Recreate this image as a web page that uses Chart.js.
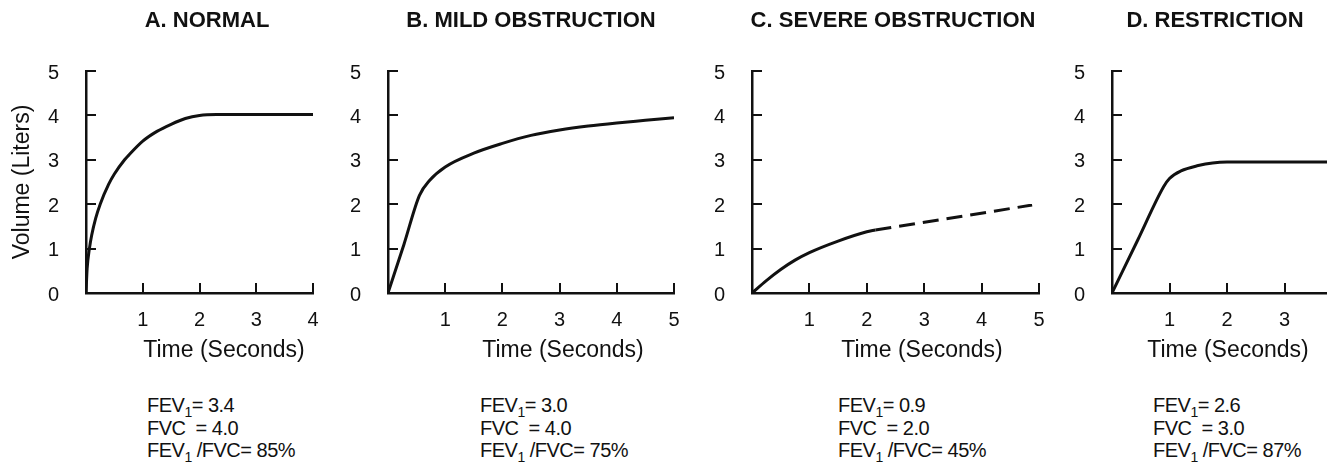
<!DOCTYPE html>
<html><head><meta charset="utf-8">
<script src="https://cdn.jsdelivr.net/npm/chart.js@4.4.1/dist/chart.umd.min.js"></script>
<style>
html,body{margin:0;padding:0;background:#fff;width:1327px;height:465px;overflow:hidden;position:relative;}
canvas{position:absolute;top:0;}
.t{position:absolute;font-family:"Liberation Sans",Arial,sans-serif;color:#111;white-space:nowrap;}
.ptitle{font-size:22px;font-weight:bold;line-height:26px;top:7px;width:400px;text-align:center;}
.xtitle{font-size:23px;line-height:28px;top:335px;width:300px;text-align:center;}
.fev{font-size:20px;line-height:22.5px;top:394px;letter-spacing:-0.5px;}
.fev sub{font-size:14px;vertical-align:baseline;position:relative;top:5px;line-height:0;}
</style></head><body>
<script>
// ---------- data ----------
const panelTitles = ['A. NORMAL', 'B. MILD OBSTRUCTION', 'C. SEVERE OBSTRUCTION', 'D. RESTRICTION'];
const xAxisTitle = 'Time (Seconds)';
const yAxisTitle = 'Volume (Liters)';
const yMax = 5;
const xMax = [4, 5, 5, 4];

const normalTime   = [0, 0.02, 0.06, 0.1, 0.17, 0.25, 0.4, 0.5, 0.68, 0.75, 1.0, 1.25, 1.5, 1.75, 2.0, 2.3, 4];
const normalVolume = [0, 0.55, 1.0, 1.3, 1.68, 2.0, 2.45, 2.68, 3.0, 3.1, 3.42, 3.64, 3.8, 3.93, 4.0, 4.02, 4.02];

const mildTime   = [0, 0.28, 0.55, 0.73, 1.0, 1.5, 2.0, 2.5, 3.0, 3.5, 4.0, 4.5, 5.0];
const mildVolume = [0, 1.1, 2.2, 2.54, 2.84, 3.15, 3.37, 3.55, 3.67, 3.76, 3.83, 3.89, 3.95];

const severeTime   = [0, 0.25, 0.5, 0.75, 1.0, 1.5, 2.0, 2.15];
const severeVolume = [0, 0.28, 0.53, 0.74, 0.91, 1.17, 1.38, 1.42];
const severeExtrapTime   = [2.15, 4.88];
const severeExtrapVolume = [1.42, 1.98];

const restrictionTime   = [0, 0.45, 0.9, 1.0, 1.2, 1.5, 1.75, 2.0, 3.0, 4.0];
const restrictionVolume = [0, 1.2, 2.4, 2.58, 2.75, 2.87, 2.93, 2.95, 2.95, 2.95];

const fev1Values  = ['3.4', '3.0', '0.9', '2.6'];
const fvcValues   = ['4.0', '4.0', '2.0', '3.0'];
const ratioValues = ['85%', '75%', '45%', '87%'];

// ---------- layout (pixels) ----------
const panelLayout = [
  {axisX: 86,   plotW: 227, titleX: 207,  xTitleX: 224,  fevX: 147},
  {axisX: 388,  plotW: 286, titleX: 531,  xTitleX: 563,  fevX: 480},
  {axisX: 752,  plotW: 287, titleX: 893,  xTitleX: 922,  fevX: 838},
  {axisX: 1112, plotW: 230, titleX: 1215, xTitleX: 1228, fevX: 1153}
];
const INK = '#111111';
const FONT = '"Liberation Sans", Arial, sans-serif';
const TICK_LEN = 10;

function pts(xs, ys) { return xs.map((x, k) => ({x: x, y: ys[k]})); }

const panelDatasets = [
  [{data: pts(normalTime, normalVolume)}],
  [{data: pts(mildTime, mildVolume)}],
  [{data: pts(severeTime, severeVolume)},
   {data: pts(severeExtrapTime, severeExtrapVolume), borderDash: [16, 8]}],
  [{data: pts(restrictionTime, restrictionVolume)}]
];

// inward tick marks drawn from the scales' own tick positions
const inwardTicks = {
  id: 'inwardTicks',
  afterDraw(chart) {
    const {ctx, chartArea, scales} = chart;
    const xs = scales.x, ys = scales.y;
    ctx.save();
    ctx.strokeStyle = INK;
    ctx.lineWidth = 2;
    ctx.lineCap = 'butt';
    xs.ticks.forEach(t => {
      if (t.value === 0) return;
      const px = Math.round(xs.getPixelForValue(t.value));
      ctx.beginPath();
      ctx.moveTo(px, chartArea.bottom);
      ctx.lineTo(px, chartArea.bottom - TICK_LEN);
      ctx.stroke();
    });
    ys.ticks.forEach(t => {
      if (t.value === 0) return;
      const py = Math.round(ys.getPixelForValue(t.value));
      ctx.beginPath();
      ctx.moveTo(chartArea.left, py);
      ctx.lineTo(chartArea.left + TICK_LEN, py);
      ctx.stroke();
    });
    ctx.restore();
  }
};

function addText(cls, html, left) {
  const d = document.createElement('div');
  d.className = 't ' + cls;
  d.innerHTML = html;
  d.style.left = left + 'px';
  document.body.appendChild(d);
}

function makeChart(i) {
  const L = panelLayout[i];
  const YW = 86, RP = 27, TOP = 71, BOTTOM = 293, H = 340;
  const w = YW + L.plotW + RP;
  const c = document.createElement('canvas');
  c.width = w; c.height = H;
  c.style.left = (L.axisX - YW) + 'px';
  c.style.width = w + 'px'; c.style.height = H + 'px';
  document.body.appendChild(c);
  const tickFont = {family: FONT, size: 20};
  const gridOpts = {display: false};
  const borderOpts = {display: true, color: INK, width: 2.5};
  new Chart(c, {
    type: 'line',
    data: {datasets: panelDatasets[i].map(d => Object.assign({
      borderColor: INK, borderWidth: 3, pointRadius: 0, fill: false,
      cubicInterpolationMode: 'monotone', borderCapStyle: 'butt'
    }, d))},
    options: {
      responsive: false, animation: false, devicePixelRatio: 1,
      layout: {padding: {top: TOP, right: RP, left: 0, bottom: 0}},
      plugins: {legend: {display: false}, tooltip: {enabled: false}, title: {display: false}},
      scales: {
        x: {
          type: 'linear', min: 0, max: xMax[i],
          afterFit: s => { s.height = H - BOTTOM; },
          ticks: {stepSize: 1, padding: 7, font: tickFont, color: INK, maxRotation: 0, autoSkip: false,
                  callback: v => (v === 0 ? '' : String(v))},
          grid: gridOpts, border: borderOpts
        },
        y: {
          type: 'linear', min: 0, max: yMax,
          afterFit: s => { s.width = YW; },
          ticks: {stepSize: 1, padding: 19, labelOffset: 2, font: tickFont, color: INK},
          grid: gridOpts, border: borderOpts,
          title: {display: i === 0, text: yAxisTitle, color: INK,
                  font: {family: FONT, size: 23}, padding: {top: 9, bottom: 0}}
        }
      }
    },
    plugins: [inwardTicks]
  });
  addText('ptitle', panelTitles[i], L.titleX - 200);
  addText('xtitle', xAxisTitle, L.xTitleX - 150);
  addText('fev',
    'FEV<sub>1</sub>= ' + fev1Values[i] + '<br>' +
    'FVC&nbsp; = ' + fvcValues[i] + '<br>' +
    'FEV<sub>1</sub> /FVC= ' + ratioValues[i], L.fevX);
}

for (let i = 0; i < 4; i++) makeChart(i);
</script>
</body></html>
